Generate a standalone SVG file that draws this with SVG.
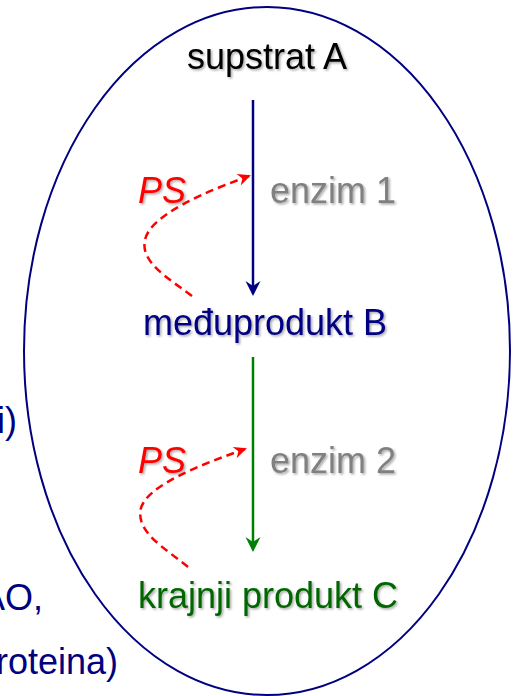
<svg xmlns="http://www.w3.org/2000/svg" width="514" height="696" viewBox="0 0 514 696">
  <defs>
    <filter id="sh" x="-10%" y="-30%" width="130%" height="160%">
      <feDropShadow dx="1.5" dy="1.5" stdDeviation="1" flood-color="#000" flood-opacity="0.35"/>
    </filter>
    <marker id="ahNavy" viewBox="-16 -8 17 16" refX="-10" refY="0" markerWidth="17" markerHeight="16" orient="auto" markerUnits="userSpaceOnUse">
      <path d="M0,0 L-15,-7.5 L-10,0 L-15,7.5 Z" fill="#000080"/>
    </marker>
    <marker id="ahGreen" viewBox="-16 -8 17 16" refX="-10" refY="0" markerWidth="17" markerHeight="16" orient="auto" markerUnits="userSpaceOnUse">
      <path d="M0,0 L-15,-7.5 L-10,0 L-15,7.5 Z" fill="#008000"/>
    </marker>
    <marker id="ahRed" viewBox="-14 -7 15 14" refX="-2" refY="0" markerWidth="15" markerHeight="14" orient="auto" markerUnits="userSpaceOnUse">
      <path d="M0,0 L-13,-6 L-9,0 L-13,6 Z" fill="#ff0000"/>
    </marker>
  </defs>
  <style>
    text { font-family: "Liberation Sans", Arial, sans-serif; font-size: 36px; }
    .lbl { filter: url(#sh); }
    .side { fill: #000080; }
    .ps { fill: #ff0000; font-style: italic; }
    .enz { fill: #808080; }
    .dash { fill: none; stroke: #ff0000; stroke-width: 2.5; stroke-dasharray: 8 5; }
  </style>

  <g id="cell">
    <ellipse cx="267" cy="351" rx="243" ry="344" fill="none" stroke="#000080" stroke-width="2"/>
  </g>

  <g id="side-texts">
    <text class="side" x="17" y="433" text-anchor="end">i)</text>
    <text class="side" x="43" y="610" text-anchor="end">AO,</text>
    <text class="side" x="118" y="674" text-anchor="end">roteina)</text>
  </g>

  <g id="connectors">
    <line x1="253" y1="100" x2="253" y2="286" stroke="#000080" stroke-width="2.5" marker-end="url(#ahNavy)"/>
    <line x1="253" y1="357" x2="253" y2="542" stroke="#008000" stroke-width="2.5" marker-end="url(#ahGreen)"/>
    <path class="dash" d="M192,296 C168,278 140,262 145,240 C150,215 205,192 249,176" marker-end="url(#ahRed)"/>
    <path class="dash" d="M188,567 C165,548 135,532 141,508 C148,485 200,465 245,449" marker-end="url(#ahRed)"/>
  </g>

  <g id="substrate-a">
    <text class="lbl" x="267" y="69" text-anchor="middle" fill="#000000">supstrat A</text>
  </g>
  <g id="ps-1">
    <text class="lbl ps" x="138" y="203">PS</text>
  </g>
  <g id="enzyme-1">
    <text class="lbl enz" x="270" y="203">enzim 1</text>
  </g>
  <g id="intermediate-b">
    <text class="lbl" x="265" y="335" text-anchor="middle" fill="#000080">međuprodukt B</text>
  </g>
  <g id="ps-2">
    <text class="lbl ps" x="138" y="473">PS</text>
  </g>
  <g id="enzyme-2">
    <text class="lbl enz" x="270" y="473">enzim 2</text>
  </g>
  <g id="product-c">
    <text class="lbl" x="268" y="608" text-anchor="middle" fill="#006600">krajnji produkt C</text>
  </g>
</svg>
